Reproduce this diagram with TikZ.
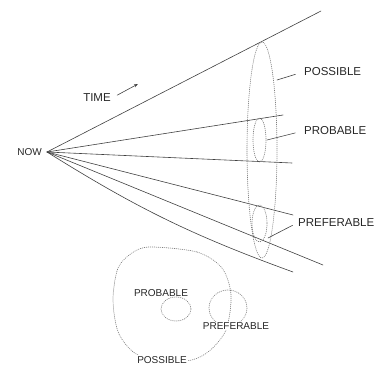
\documentclass[tikz,border=0pt]{standalone}
\usepackage{fontspec}
\setmainfont{Liberation Sans}
\usetikzlibrary{positioning,arrows.meta}

\begin{document}
\begin{tikzpicture}[line cap=round,line join=round,x=1pt,y=-1pt,
  ray/.style={line width=0.6pt,black!75},
  cloud/.style={line width=0.7pt,gray,dash pattern=on 0.6pt off 1.4pt},
  lbl/.style={font=\fontsize{11.5}{11.5}\selectfont,text=black!85,inner sep=1pt},
  sublbl/.style={font=\fontsize{10}{10}\selectfont,text=black!85,inner sep=1pt}]
  \useasboundingbox (0,0) rectangle (380,369);
  \coordinate (now) at (47,152);
  \node[sublbl,left=4pt of now] (nowlbl) {NOW};
  \foreach \n/\x/\y in {a/321/11,b/283/115,c/292/163,d/293/215,e/323/265}
    \draw[ray] (now) -- (\x,\y) coordinate (\n);
  \draw[ray] (now) to[bend right=6] (293,272) coordinate (f);
  \node[lbl] (time) at (97,98) {TIME};
  \draw[ray,-{Stealth[length=4pt]},shorten <=6pt] (time.east) -- ++(26,-14);
  \draw[cloud] (262,150) ellipse [x radius=15,y radius=108];
  \draw[cloud] (259.5,140) ellipse [x radius=6.5,y radius=22];
  \draw[cloud] (259.5,223.5) ellipse [x radius=7.5,y radius=18.5];
  \node[lbl,anchor=west] (possible) at (303,72) {POSSIBLE};
  \node[lbl,anchor=west] (probable) at (303,131) {PROBABLE};
  \node[lbl,anchor=west] (preferable) at (297,223) {PREFERABLE};
  \draw[ray,shorten >=8pt] (277,80) -- (possible.west);
  \draw[ray,shorten >=8pt] (267,140) -- (probable.west);
  \draw[ray,shorten >=5pt] (268,238) -- (preferable.west);
  \draw[cloud] plot[smooth cycle] coordinates {(150,247) (197,252) (222,268)
    (231,295) (226,330) (208,352) (185,361) (140,356) (119,334) (113,300)
    (118,268) (132,253)};
  \draw[cloud] (176,309) ellipse [x radius=15,y radius=12];
  \draw[cloud] (228,308) ellipse [x radius=19,y radius=18];
  \node[sublbl] (probable2) at (161,293) {PROBABLE};
  \node[sublbl,fill=white] (preferable2) at (236,326) {PREFERABLE};
  \node[sublbl,fill=white] (possible2) at (162,360) {POSSIBLE};
\end{tikzpicture}
\end{document}
